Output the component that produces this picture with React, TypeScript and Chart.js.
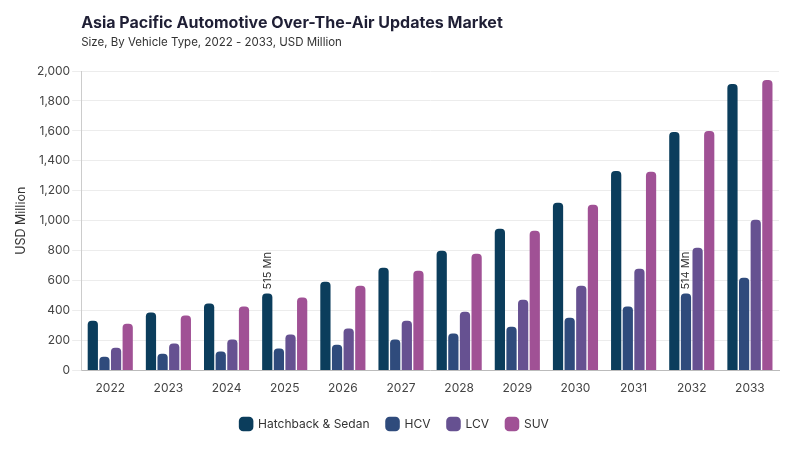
import { useEffect, useRef } from 'react';
import { Chart, registerables } from 'chart.js';

Chart.register(...registerables);

const years = ['2022', '2023', '2024', '2025', '2026', '2027', '2028', '2029', '2030', '2031', '2032', '2033'];
const hatchback = [333, 387, 447, 515, 593, 687, 800, 947, 1120, 1333, 1593, 1913];
const hcv = [93, 113, 127, 147, 173, 207, 247, 293, 353, 427, 514, 620];
const lcv = [153, 180, 207, 240, 280, 333, 393, 473, 567, 680, 820, 1007];
const suv = [313, 367, 427, 487, 567, 667, 780, 933, 1107, 1327, 1600, 1940];

// which bars get a value label: [dataset index, point index]
const labelled = [
  [0, 3],
  [1, 10],
];

const FONT = 'Inter, "Noto Sans", sans-serif';

const barLabels = {
  id: 'barLabels',
  afterDatasetsDraw(chart: Chart) {
    const ctx = chart.ctx;
    ctx.save();
    ctx.font = `11px ${FONT}`;
    ctx.fillStyle = '#333';
    ctx.textAlign = 'left';
    ctx.textBaseline = 'middle';
    labelled.forEach(([d, i]) => {
      const bar: any = chart.getDatasetMeta(d).data[i];
      const v = chart.data.datasets[d].data[i] as number;
      ctx.save();
      ctx.translate(bar.x, bar.y - 4);
      ctx.rotate(-Math.PI / 2);
      ctx.fillText(`${v} Mn`, 0, 0);
      ctx.restore();
    });
    ctx.restore();
  },
};

const App = () => {
  const chartRef = useRef<HTMLCanvasElement | null>(null);

  useEffect(() => {
    if (!chartRef.current) return;
    const ctx = chartRef.current.getContext('2d');
    if (!ctx) return;

    const ds = (label: string, data: number[], color: string) => ({
      label,
      data,
      backgroundColor: color,
      borderRadius: { topLeft: 4, topRight: 4 },
      borderSkipped: 'bottom' as const,
      barPercentage: 0.88,
      categoryPercentage: 0.8,
    });

    const chart = new Chart(ctx, {
      type: 'bar',
      data: {
        labels: years,
        datasets: [
          ds('Hatchback & Sedan', hatchback, '#0b3d5c'),
          ds('HCV', hcv, '#2f4b7c'),
          ds('LCV', lcv, '#665191'),
          ds('SUV', suv, '#a05195'),
        ],
      },
      options: {
        animation: false,
        responsive: true,
        maintainAspectRatio: false,
        layout: { padding: { left: 2, right: 13, top: 4, bottom: 2 } },
        plugins: {
          title: {
            display: true,
            text: 'Asia Pacific Automotive Over-The-Air Updates Market',
            align: 'start',
            fullSize: false,
            color: '#1f1f35',
            font: { family: FONT, size: 16, weight: 'bold' },
            padding: { top: 2, bottom: 2 },
          },
          subtitle: {
            display: true,
            text: 'Size, By Vehicle Type, 2022 - 2033, USD Million',
            align: 'start',
            fullSize: false,
            color: '#333',
            font: { family: FONT, size: 11.5 },
            padding: { top: 0, bottom: 22 },
          },
          legend: {
            position: 'bottom',
            // empty title, only adds a little space above the items
            title: { display: true, text: '', padding: 0, font: { size: 1.7 } },
            labels: {
              usePointStyle: true,
              pointStyle: 'rectRounded',
              boxWidth: 13,
              boxHeight: 13,
              padding: 17,
              color: '#333',
              font: { family: FONT, size: 12 },
            },
          },
          tooltip: { enabled: false },
        },
        scales: {
          x: {
            grid: { display: false },
            border: { color: '#bbb' },
            ticks: { color: '#444', font: { family: FONT, size: 12 }, padding: 3 },
          },
          y: {
            min: 0,
            max: 2000,
            ticks: {
              stepSize: 200,
              color: '#444',
              font: { family: FONT, size: 12 },
              padding: 2,
            },
            grid: { color: '#ececec', tickLength: 9 },
            border: { color: '#ccc' },
            title: {
              display: true,
              text: 'USD Million',
              color: '#333',
              font: { family: FONT, size: 12.5 },
              padding: { bottom: 6 },
            },
          },
        },
      },
      plugins: [barLabels],
    });

    return () => chart.destroy();
  }, []);

  return (
    <div style={{ width: 784, height: 434 }}>
      <canvas ref={chartRef} />
    </div>
  );
};

export default App;
